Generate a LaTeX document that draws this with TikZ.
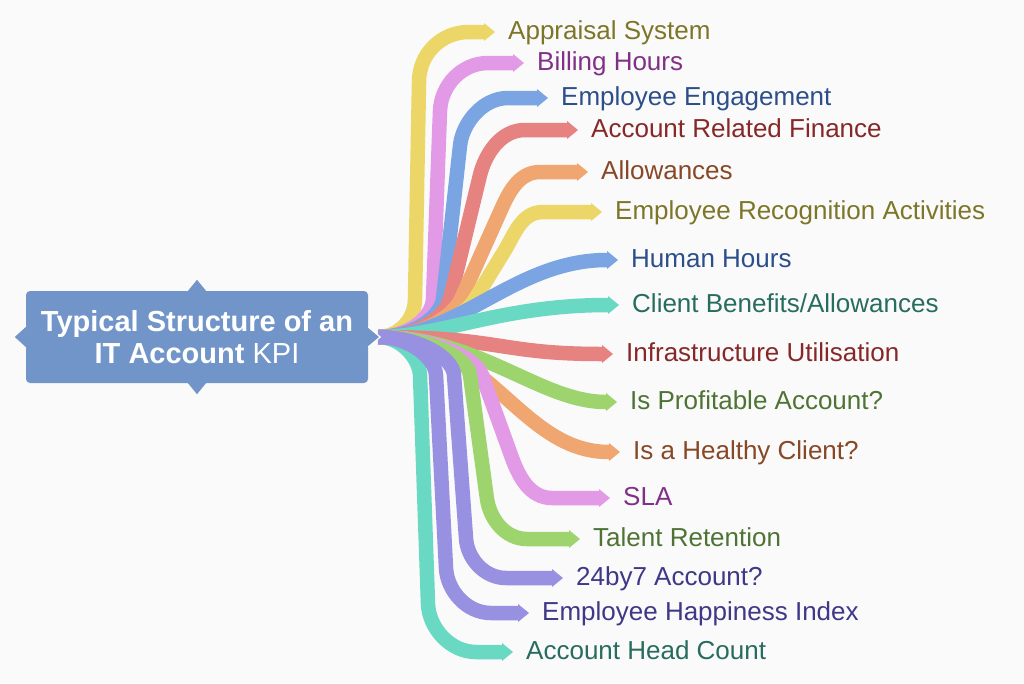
\documentclass[tikz,border=0pt]{standalone}
\usepackage{fontspec}
\setmainfont{Liberation Sans}
\usetikzlibrary{arrows.meta}

\definecolor{pagebg}{RGB}{250,250,250}
\definecolor{hubblue}{RGB}{114,149,201}
\definecolor{rYellow}{RGB}{236,214,104}
\definecolor{rPink}{RGB}{226,153,230}
\definecolor{rBlue}{RGB}{122,165,226}
\definecolor{rRed}{RGB}{230,130,128}
\definecolor{rOrange}{RGB}{240,166,112}
\definecolor{rTeal}{RGB}{106,217,196}
\definecolor{rGreen}{RGB}{158,212,110}
\definecolor{rPurple}{RGB}{152,144,224}
\definecolor{tOlive}{RGB}{125,118,40}
\definecolor{tPurple}{RGB}{128,48,135}
\definecolor{tBlue}{RGB}{44,78,138}
\definecolor{tRed}{RGB}{135,40,40}
\definecolor{tBrown}{RGB}{135,72,38}
\definecolor{tTeal}{RGB}{40,108,95}
\definecolor{tGreen}{RGB}{78,115,52}
\definecolor{tIndigo}{RGB}{62,56,135}

\tikzset{
  hub/.style={rectangle,rounded corners=4pt,fill=hubblue,text=white,align=center,
    minimum width=342pt,minimum height=92pt,font=\bfseries\fontsize{29}{32}\selectfont},
  lbl/.style={anchor=west,inner xsep=13pt,inner ysep=0pt,text height=17pt,text depth=3pt,
    text=#1,font=\fontsize{26}{30}\selectfont},
  ribbon/.style={draw=#1,line width=14.5pt,-{Triangle[length=11pt,width=18pt,line width=0pt]}}
}

\begin{document}
\begin{tikzpicture}[x=1pt,y=-1pt]
  \fill[pagebg] (0,0) rectangle (1024,683);
  \useasboundingbox (0,0) rectangle (1024,683);

  % central box
  \node[hub] (kpi) at (197,337) {Typical Structure of an\\IT Account \textmd{KPI}};
  \fill[hubblue] ([xshift=-9pt]kpi.north) -- ([yshift=11pt]kpi.north) -- ([xshift=9pt]kpi.north) -- cycle;
  \fill[hubblue] ([xshift=-9pt]kpi.south) -- ([yshift=-11pt]kpi.south) -- ([xshift=9pt]kpi.south) -- cycle;
  \fill[hubblue] ([yshift=10pt]kpi.west) -- ([xshift=-11pt]kpi.west) -- ([yshift=-10pt]kpi.west) -- cycle;
  \coordinate (root) at ([xshift=10pt]kpi.east);

  % labels, upper half
  \node[lbl=tOlive] (appr) at (495,32) {Appraisal System};
  \node[lbl=tPurple] (bill) at (524,63) {Billing Hours};
  \node[lbl=tBlue] (engage) at (548,98) {Employee Engagement};
  \node[lbl=tRed] (finance) at (578,130) {Account Related Finance};
  \node[lbl=tBrown] (allow) at (588,172) {Allowances};
  \node[lbl=tOlive] (recog) at (602,212) {Employee Recognition Activities};
  \node[lbl=tBlue] (hours) at (618,260) {Human Hours};
  \node[lbl=tTeal] (benefit) at (619,305) {Client Benefits/Allowances};
  % labels, lower half
  \node[lbl=tRed] (infra) at (613,354) {Infrastructure Utilisation};
  \node[lbl=tGreen] (profit) at (617,402) {Is Profitable Account?};
  \node[lbl=tBrown] (healthy) at (620,452) {Is a Healthy Client?};
  \node[lbl=tPurple] (sla) at (610,498) {SLA};
  \node[lbl=tGreen] (talent) at (580,539) {Talent Retention};
  \node[lbl=tIndigo] (allday) at (563,578) {24by7 Account?};
  \node[lbl=tIndigo] (happy) at (529,613) {Employee Happiness Index};
  \node[lbl=tTeal] (headcnt) at (513,652) {Account Head Count};

  % ribbons going up
  \draw[ribbon=rTeal] (root) .. controls (401,337) and (419,358) .. (420,375) -- (428,604) .. controls (429,628) and (450,652) .. (476,652) -- (headcnt.west);
  \draw[ribbon=rYellow] (root) .. controls (398,337) and (415,320) .. (415,299) -- (419,82) .. controls (419,54) and (441,32) .. (469,32) -- (appr.west);
  \draw[ribbon=rPink] (root) .. controls (408,337) and (432,318) .. (433,299) -- (440,111) .. controls (441,85) and (462,63) .. (488,63) -- (bill.west);
  \draw[ribbon=rBlue] (root) .. controls (414,337) and (441,316) .. (443,299) -- (460,146) .. controls (462,124) and (482,98) .. (508,98) -- (engage.west);
  \draw[ribbon=rRed] (root) .. controls (418,337) and (446,316) .. (450,299) -- (480,175) .. controls (485,155) and (500,130) .. (525,130) -- (finance.west);
  \draw[ribbon=rOrange] (root) .. controls (424,337) and (454,315) .. (461,299) -- (500,212) .. controls (508,194) and (518,172) .. (540,172) -- (allow.west);
  \draw[ribbon=rYellow] (root) .. controls (431,337) and (465,316) .. (475,299) -- (505,250) .. controls (515,233) and (522,212) .. (543,212) -- (recog.west);
  % ribbons in the middle
  \draw[ribbon=rBlue] (root) .. controls (460,337) and (515,260) .. (hours.west);
  \draw[ribbon=rTeal] (root) .. controls (440,337) and (500,305) .. (benefit.west);
  \draw[ribbon=rRed] (root) .. controls (500,337) and (500,354) .. (infra.west);
  \draw[ribbon=rGreen] (root) .. controls (480,337) and (540,402) .. (profit.west);
  \draw[ribbon=rOrange] (root) .. controls (490,337) and (520,452) .. (healthy.west);
  % ribbons going down
  \draw[ribbon=rPink] (root) .. controls (435,337) and (476,359) .. (482,375) -- (512,458) .. controls (519,477) and (530,498) .. (552,498) -- (sla.west);
  \draw[ribbon=rGreen] (root) .. controls (429,337) and (468,358) .. (470,375) -- (487,499) .. controls (490,519) and (505,539) .. (527,539) -- (talent.west);
  \draw[ribbon=rPurple] (root) .. controls (420,337) and (453,358) .. (454,375) -- (466,538) .. controls (467,558) and (484,578) .. (506,578) -- (allday.west);
  \draw[ribbon=rPurple] (root) .. controls (410,337) and (435,358) .. (436,375) -- (446,568) .. controls (447,590) and (466,613) .. (491,613) -- (happy.west);

  % tip of the box over the ribbons
  \filldraw[fill=hubblue,draw=white,line width=1.2pt] ([yshift=10pt]kpi.east) -- ([xshift=12pt]kpi.east) -- ([yshift=-10pt]kpi.east);
\end{tikzpicture}
\end{document}
